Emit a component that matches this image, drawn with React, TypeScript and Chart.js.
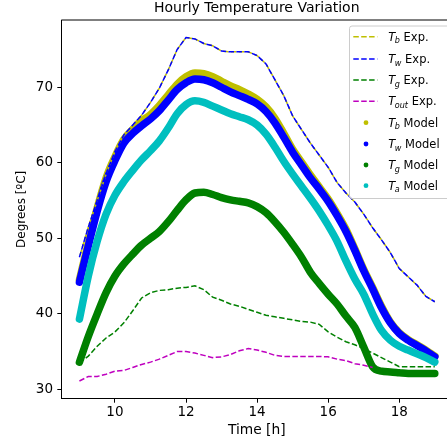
import React, { useEffect, useRef } from "react";
import { Chart, registerables } from "chart.js";

Chart.register(...registerables);

const TITLE = "Hourly Temperature Variation";
const X_LABEL = "Time [h]";
const Y_LABEL = "Degrees [ºC]";

const xTicks = [10, 12, 14, 16, 18];
const yTicks = [30, 40, 50, 60, 70];

const hours = [
  9, 9.25, 9.5, 9.75, 10, 10.25, 10.5, 10.75, 11, 11.25, 11.5, 11.75, 12, 12.25,
  12.5, 12.75, 13, 13.25, 13.5, 13.75, 14, 14.25, 14.5, 14.75, 15, 15.25, 15.5,
  15.75, 16, 16.25, 16.5, 16.75, 17, 17.25, 17.5, 17.75, 18, 18.25, 18.5, 18.75, 19,
];

const twExp = [
  47.5, 51.5, 55.0, 58.5, 61.5, 63.7, 65.0, 66.3, 68.0, 69.9, 72.3, 75.0, 76.6,
  76.4, 75.8, 75.5, 74.8, 74.7, 74.7, 74.7, 74.2, 73.1, 71.0, 68.9, 66.2, 64.4,
  62.6, 61.0, 59.4, 57.4, 56.0, 54.8, 53.2, 51.4, 49.8, 48.1, 46.0, 44.9, 43.8,
  42.3, 41.6,
];
const tbExp = [
  47.5, 51.5, 55.0, 58.5, 61.5, 63.7, 65.0, 66.3, 68.0, 69.9, 72.3, 75.0, 76.6,
  76.4, 75.8, 75.5, 74.8, 74.7, 74.7, 74.7, 74.2, 73.1, 71.0, 68.9, 66.2, 64.4,
  62.6, 61.0, 59.4, 57.4, 56.0, 54.8, 53.2, 51.4, 49.8, 48.1, 46.0, 44.9, 43.8,
  42.3, 41.6,
];
const tgExp = [
  33.5, 34.4, 35.7, 36.8, 37.6, 38.8, 40.4, 42.1, 42.8, 43.1, 43.2, 43.4, 43.5,
  43.7, 43.2, 42.2, 41.8, 41.3, 41.0, 40.6, 40.2, 39.8, 39.6, 39.4, 39.2, 39.0,
  38.9, 38.6, 37.6, 36.9, 36.3, 35.9, 35.4, 34.8, 34.2, 33.6, 33.0, 33.0, 33.0,
  33.0, 33.0,
];
const toutExp = [
  31.1, 31.7, 31.7, 32.0, 32.4, 32.5, 32.9, 33.3, 33.6, 34.0, 34.5, 35.0, 35.0,
  34.8, 34.5, 34.2, 34.3, 34.6, 35.1, 35.4, 35.2, 34.9, 34.5, 34.35, 34.35,
  34.35, 34.35, 34.35, 34.3, 34.0, 33.8, 33.4, 33.2, 32.9,
];

const tbModel = [
  44.5, 49.4, 54.0, 58.0, 60.8, 63.1, 64.4, 65.5, 66.4, 67.6, 69.0, 70.4, 71.4,
  71.9, 71.8, 71.4, 70.8, 70.2, 69.7, 69.1, 68.4, 67.4, 65.9, 63.9, 61.8, 60.1,
  58.4, 56.8, 55.2, 53.3, 51.2, 48.6, 45.9, 43.5, 41.0, 38.9, 37.5, 36.6, 35.9,
  35.2, 34.4,
];
const twModel = [
  44.2, 49.0, 53.6, 57.5, 60.3, 62.6, 63.9, 64.9, 65.8, 66.9, 68.3, 69.7, 70.6,
  71.1, 71.0, 70.6, 70.0, 69.4, 68.9, 68.4, 67.8, 66.8, 65.3, 63.4, 61.4, 59.7,
  58.0, 56.5, 54.9, 53.0, 50.9, 48.4, 45.7, 43.3, 40.8, 38.8, 37.4, 36.5, 35.8,
  35.1, 34.3,
];
const tgModel = [
  33.6, 37.0, 40.0, 42.8, 45.0, 46.6, 47.9, 49.1, 50.0, 50.9, 52.2, 53.7, 55.1,
  56.0, 56.1, 55.8, 55.4, 55.1, 54.9, 54.7, 54.2, 53.4, 52.2, 50.8, 49.2, 47.5,
  45.5, 44.0, 42.6, 41.3, 39.7, 38.2, 35.6, 33.0, 32.4, 32.3, 32.2, 32.1, 32.1,
  32.1, 32.1,
];
const taModel = [
  39.3, 45.0, 49.6, 53.2, 55.7, 57.5, 59.0, 60.4, 61.6, 62.9, 64.6, 66.5, 67.7,
  68.2, 68.0, 67.5, 67.0, 66.5, 66.1, 65.7, 65.0, 63.8, 62.1, 60.2, 58.5, 56.9,
  55.3, 53.6, 51.7, 49.6, 47.0, 44.6, 42.6, 40.0, 37.8, 36.5, 35.7, 35.2, 34.7,
  34.2, 33.6,
];

const legendSubs = ["b", "w", "g", "out", "b", "w", "g", "a"];
const legendSuffix = [" Exp.", " Exp.", " Exp.", " Exp.", " Model", " Model", " Model", " Model"];

const YELLOW = "#bfbf00";
const BLUE = "#0000ff";
const GREEN = "#008000";
const MAGENTA = "#bf00bf";
const CYAN = "#00bfbf";
const legendColors = [YELLOW, BLUE, GREEN, MAGENTA, YELLOW, BLUE, GREEN, CYAN];

const FONT = '"DejaVu Sans"';
const W = 470;
const H = 443;

const pts = (ys: number[]) => ys.map((y, i) => ({ x: hours[i], y }));

const DASH = [5.5, 2.4];

function drawLabel(ctx: CanvasRenderingContext2D, x: number, baseY: number, sub: string, suffix: string, size: number) {
  ctx.textAlign = "left";
  ctx.textBaseline = "alphabetic";
  ctx.fillStyle = "#000";
  ctx.font = `italic ${size}px ${FONT}`;
  ctx.fillText("T", x, baseY);
  let cx = x + ctx.measureText("T").width - 0.5;
  const subSize = size * 0.7;
  ctx.font = `italic ${subSize}px ${FONT}`;
  ctx.fillText(sub, cx, baseY + size * 0.2);
  cx += ctx.measureText(sub).width;
  ctx.font = `${size}px ${FONT}`;
  ctx.fillText(suffix, cx, baseY);
}

const mplPlugin = {
  id: "mplExtras",
  afterDatasetsDraw(chart: any) {
    const ctx: CanvasRenderingContext2D = chart.ctx;
    const { left, right, top } = chart.chartArea;
    ctx.save();
    // top and right spines
    ctx.strokeStyle = "#000";
    ctx.lineWidth = 1;
    ctx.beginPath();
    ctx.moveTo(left, top);
    ctx.lineTo(right, top);
    ctx.lineTo(right, chart.chartArea.bottom);
    ctx.stroke();

    // legend frame
    const bx = 349.5, by = 26, bw = 110, bh = 172.5, r = 2.5;
    ctx.beginPath();
    ctx.moveTo(bx + r, by);
    ctx.lineTo(bx + bw - r, by);
    ctx.quadraticCurveTo(bx + bw, by, bx + bw, by + r);
    ctx.lineTo(bx + bw, by + bh - r);
    ctx.quadraticCurveTo(bx + bw, by + bh, bx + bw - r, by + bh);
    ctx.lineTo(bx + r, by + bh);
    ctx.quadraticCurveTo(bx, by + bh, bx, by + bh - r);
    ctx.lineTo(bx, by + r);
    ctx.quadraticCurveTo(bx, by, bx + r, by);
    ctx.closePath();
    ctx.fillStyle = "rgba(255,255,255,0.8)";
    ctx.fill();
    ctx.strokeStyle = "#cccccc";
    ctx.lineWidth = 1;
    ctx.stroke();

    const rowY = [36.7, 59.0, 80.0, 101.2, 122.7, 144.0, 165.0, 185.7];
    for (let i = 0; i < legendSubs.length; i++) {
      const y = rowY[i];
      if (i < 4) {
        ctx.strokeStyle = legendColors[i];
        ctx.lineWidth = 1.5;
        ctx.setLineDash(DASH);
        ctx.beginPath();
        ctx.moveTo(353.3, y);
        ctx.lineTo(377.3, y);
        ctx.stroke();
        ctx.setLineDash([]);
      } else {
        ctx.fillStyle = legendColors[i];
        ctx.beginPath();
        ctx.arc(366, y, 2.4, 0, Math.PI * 2);
        ctx.fill();
      }
      drawLabel(ctx, 388.3, y + 4.2, legendSubs[i], legendSuffix[i], 11.5);
    }
    ctx.restore();
  },
};

export default function App() {
  const canvasRef = useRef<HTMLCanvasElement | null>(null);

  useEffect(() => {
    const canvas = canvasRef.current;
    if (!canvas) return;
    const expLine = (label: string, data: number[], color: string, order: number, offset = 0) => ({
      label,
      data: pts(data),
      borderColor: color,
      backgroundColor: color,
      borderWidth: 1.5,
      borderDash: DASH,
      borderDashOffset: offset,
      pointRadius: 0,
      tension: 0,
      fill: false,
      order,
    });
    const modelLine = (label: string, data: number[], color: string, order: number) => ({
      label,
      data: pts(data),
      borderColor: color,
      backgroundColor: color,
      borderWidth: 7.5,
      borderCapStyle: "round",
      borderJoinStyle: "round",
      cubicInterpolationMode: "monotone",
      pointRadius: 0,
      fill: false,
      order,
    });

    const chart = new Chart(canvas, {
      type: "line",
      data: {
        datasets: [
          expLine("Tw Exp.", twExp, BLUE, 0),
          expLine("Tb Exp.", tbExp, YELLOW, 1, 5.5),
          expLine("Tg Exp.", tgExp, GREEN, 2),
          expLine("Tout Exp.", toutExp, MAGENTA, 3),
          modelLine("Ta Model", taModel, CYAN, 4),
          modelLine("Tg Model", tgModel, GREEN, 5),
          modelLine("Tw Model", twModel, BLUE, 6),
          modelLine("Tb Model", tbModel, YELLOW, 7),
        ] as any,
      },
      options: {
        responsive: false,
        animation: false,
        devicePixelRatio: 1,
        layout: { padding: { left: 0, right: W - 452.2, top: 0, bottom: 0 } },
        plugins: {
          legend: { display: false },
          tooltip: { enabled: false },
          title: {
            display: true,
            text: TITLE,
            fullSize: false,
            color: "#000",
            font: { family: FONT, size: 14, weight: "normal" },
            padding: { top: 0, bottom: 3.2 },
          },
        },
        scales: {
          x: {
            type: "linear",
            min: 8.49,
            max: 19.49,
            afterBuildTicks: (s: any) => {
              s.ticks = xTicks.map((v) => ({ value: v }));
            },
            afterFit: (s: any) => {
              s.height = 44.3;
            },
            grid: { display: true, drawOnChartArea: false, drawTicks: true, tickLength: 4, tickColor: "#000", tickWidth: 1 },
            border: { display: true, color: "#000", width: 1 },
            ticks: { color: "#000", font: { family: FONT, size: 13.5 }, padding: 1.7, maxRotation: 0, autoSkip: false },
            title: { display: true, text: X_LABEL, color: "#000", font: { family: FONT, size: 13.8 }, padding: { top: 0, bottom: 4.6 } },
          },
          y: {
            type: "linear",
            min: 28.76,
            max: 78.91,
            afterBuildTicks: (s: any) => {
              s.ticks = yTicks.map((v) => ({ value: v }));
            },
            afterFit: (s: any) => {
              s.width = 61.3;
            },
            grid: { display: true, drawOnChartArea: false, drawTicks: true, tickLength: 4, tickColor: "#000", tickWidth: 1 },
            border: { display: true, color: "#000", width: 1 },
            ticks: { color: "#000", font: { family: FONT, size: 13.5 }, padding: 4.3, autoSkip: false },
            title: { display: true, text: Y_LABEL, color: "#000", font: { family: FONT, size: 12 }, padding: { top: 14.5, bottom: 0 } },
          },
        },
      } as any,
      plugins: [mplPlugin],
    });
    return () => chart.destroy();
  }, []);

  return (
    <div style={{ position: "fixed", left: 0, top: 0, width: 447, height: 443, overflow: "hidden", background: "#fff" }}>
      <canvas ref={canvasRef} width={W} height={H} style={{ display: "block", width: W, height: H }} />
    </div>
  );
}
